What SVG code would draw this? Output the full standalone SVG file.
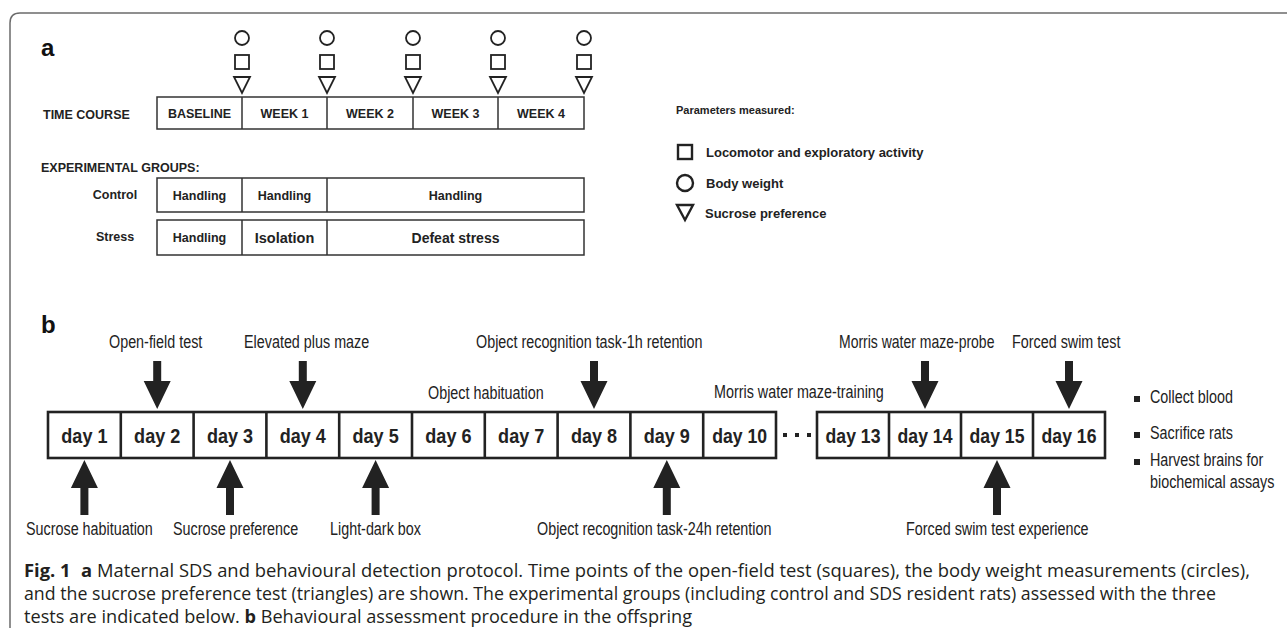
<svg xmlns="http://www.w3.org/2000/svg" width="1287" height="628" viewBox="0 0 1287 628">
<defs>
<style>
.frame{fill:none;stroke:#6b6b6b;stroke-width:1.5}
.box{fill:#fff;stroke:#333;stroke-width:1.5}
.sym{fill:none;stroke:#222;stroke-width:1.8}
.lsym{fill:none;stroke:#222;stroke-width:2.4}
.bA{font-family:"Liberation Sans",Arial,sans-serif;font-weight:bold;fill:#222}
.panel{font-family:"Liberation Sans",Arial,sans-serif;font-weight:bold;font-size:24px;fill:#111}
.hdr{font-size:12.5px}
.leg{font-size:13px}
.nar{font-family:"Liberation Sans",Arial,sans-serif;font-size:17.5px;fill:#222}
.day{font-family:"Liberation Sans",Arial,sans-serif;font-size:21px;font-weight:bold;fill:#222;text-anchor:middle}
.dbox{fill:#fff;stroke:#222;stroke-width:2.6}
.arr{fill:#222}
.cap{font-family:"Open Sans","Liberation Sans",Arial,sans-serif;font-size:17.5px;fill:#231f20}
.capb{font-weight:bold}
</style>
<path id="darrow" d="M -4 0 L 4 0 L 4 20 L 13.5 20 L 0 48 L -13.5 20 L -4 20 Z"/>
<path id="uarrow" d="M 0 0 L 13.5 28 L 4 28 L 4 55 L -4 55 L -4 28 L -13.5 28 Z"/>
<g id="trio">
<circle cx="0" cy="38" r="7" class="sym"/>
<rect x="-7" y="55" width="14" height="14" class="sym"/>
<path d="M -8 77 L 8 77 L 0 93 Z" class="sym"/>
</g>
</defs>

<path class="frame" d="M 10 628 L 10 23 Q 10 13 20 13 L 1287 13"/>

<!-- Panel a -->
<g id="panel-a">
<text class="panel" x="41" y="56">a</text>
<g id="timepoints">
<use href="#trio" x="242"/>
<use href="#trio" x="327"/>
<use href="#trio" x="413"/>
<use href="#trio" x="498"/>
<use href="#trio" x="584"/>
</g>
<g id="time-course">
<text class="bA hdr" x="43" y="119">TIME COURSE</text>
<rect class="box" x="157" y="97" width="427" height="32"/>
<path class="box" d="M242 97V129M327 97V129M413 97V129M498 97V129"/>
<g class="bA hdr" text-anchor="middle">
<text x="199.5" y="118">BASELINE</text>
<text x="284.5" y="118">WEEK 1</text>
<text x="370" y="118">WEEK 2</text>
<text x="455.5" y="118">WEEK 3</text>
<text x="541" y="118">WEEK 4</text>
</g>
</g>
<text class="bA hdr" x="41" y="172">EXPERIMENTAL GROUPS:</text>
<g id="control">
<text class="bA hdr" x="115" y="199" text-anchor="middle">Control</text>
<rect class="box" x="157" y="178" width="427" height="34"/>
<path class="box" d="M242 178V212M327 178V212"/>
<g class="bA hdr" text-anchor="middle">
<text x="199.5" y="200">Handling</text>
<text x="284.5" y="200">Handling</text>
<text x="455.5" y="200">Handling</text>
</g>
</g>
<g id="stress">
<text class="bA hdr" x="115" y="241" text-anchor="middle">Stress</text>
<rect class="box" x="157" y="220" width="427" height="35"/>
<path class="box" d="M242 220V255M327 220V255"/>
<text class="bA hdr" x="199.5" y="242" text-anchor="middle">Handling</text>
<text class="bA" font-size="14.5" x="284.5" y="243" text-anchor="middle">Isolation</text>
<text class="bA" font-size="14" x="455.5" y="243" text-anchor="middle">Defeat stress</text>
</g>
</g>

<!-- Legend -->
<g id="legend">
<text class="bA" font-size="11" x="676" y="114">Parameters measured:</text>
<rect class="lsym" x="678" y="145" width="14" height="14"/>
<text class="bA leg" x="706" y="157">Locomotor and exploratory activity</text>
<circle class="lsym" cx="685" cy="183" r="8"/>
<text class="bA leg" x="706" y="188">Body weight</text>
<path class="lsym" d="M677 205 L693 205 L685 220 Z"/>
<text class="bA leg" x="705" y="218">Sucrose preference</text>
</g>

<!-- Panel b -->
<text class="panel" x="41" y="333">b</text>
<g id="days">
<rect class="dbox" x="48" y="412" width="728" height="46"/>
<path class="dbox" d="M120.8 412V458M193.6 412V458M266.4 412V458M339.2 412V458M412 412V458M484.8 412V458M557.6 412V458M630.4 412V458M703.2 412V458"/>
<rect class="dbox" x="817" y="412" width="288" height="46"/>
<path class="dbox" d="M889 412V458M961 412V458M1033 412V458"/>
<g id="day-labels">
<text class="day" transform="translate(84.4 443) scale(0.86 1)">day 1</text>
<text class="day" transform="translate(157.2 443) scale(0.86 1)">day 2</text>
<text class="day" transform="translate(230 443) scale(0.86 1)">day 3</text>
<text class="day" transform="translate(302.8 443) scale(0.86 1)">day 4</text>
<text class="day" transform="translate(375.6 443) scale(0.86 1)">day 5</text>
<text class="day" transform="translate(448.4 443) scale(0.86 1)">day 6</text>
<text class="day" transform="translate(521.2 443) scale(0.86 1)">day 7</text>
<text class="day" transform="translate(594 443) scale(0.86 1)">day 8</text>
<text class="day" transform="translate(666.8 443) scale(0.86 1)">day 9</text>
<text class="day" transform="translate(739.6 443) scale(0.84 1)">day 10</text>
<text class="day" transform="translate(853 443) scale(0.84 1)">day 13</text>
<text class="day" transform="translate(925 443) scale(0.84 1)">day 14</text>
<text class="day" transform="translate(997 443) scale(0.84 1)">day 15</text>
<text class="day" transform="translate(1069 443) scale(0.84 1)">day 16</text>
</g>
<g class="arr">
<rect x="783" y="433" width="4" height="4"/>
<rect x="795" y="433" width="4" height="4"/>
<rect x="807" y="433" width="4" height="4"/>
</g>
</g>

<g id="connectors" class="arr">
<use href="#darrow" x="157.2" y="361"/>
<use href="#darrow" x="302.8" y="361"/>
<use href="#darrow" x="594" y="361"/>
<use href="#darrow" x="925" y="361"/>
<use href="#darrow" x="1069" y="361"/>
<use href="#uarrow" x="84.4" y="460"/>
<use href="#uarrow" x="230" y="460"/>
<use href="#uarrow" x="375.6" y="460"/>
<use href="#uarrow" x="666.8" y="460"/>
<use href="#uarrow" x="997" y="460"/>
</g>

<g id="labels-top" class="nar">
<text transform="translate(109 348) scale(0.82 1)">Open-field test</text>
<text transform="translate(244 348) scale(0.82 1)">Elevated plus maze</text>
<text transform="translate(476 348) scale(0.82 1)">Object recognition task-1h retention</text>
<text transform="translate(839 348) scale(0.8 1)">Morris water maze-probe</text>
<text transform="translate(1012 348) scale(0.82 1)">Forced swim test</text>
<text transform="translate(428 399) scale(0.82 1)">Object habituation</text>
<text transform="translate(714 398) scale(0.82 1)">Morris water maze-training</text>
</g>

<g id="labels-bottom" class="nar">
<text transform="translate(26 535) scale(0.82 1)">Sucrose habituation</text>
<text transform="translate(173 535) scale(0.82 1)">Sucrose preference</text>
<text transform="translate(330 535) scale(0.82 1)">Light-dark box</text>
<text transform="translate(537 535) scale(0.82 1)">Object recognition task-24h retention</text>
<text transform="translate(906 535) scale(0.82 1)">Forced swim test experience</text>
</g>

<g id="endpoints">
<g class="arr">
<rect x="1134" y="396" width="6" height="6"/>
<rect x="1134" y="432" width="6" height="6"/>
<rect x="1134" y="459" width="6" height="6"/>
</g>
<g class="nar">
<text transform="translate(1150 403) scale(0.82 1)">Collect blood</text>
<text transform="translate(1150 439) scale(0.82 1)">Sacrifice rats</text>
<text transform="translate(1150 466) scale(0.82 1)">Harvest brains for</text>
<text transform="translate(1150 488) scale(0.82 1)">biochemical assays</text>
</g>
</g>

<g id="caption" class="cap">
<text x="24" y="577" textLength="1226" lengthAdjust="spacingAndGlyphs"><tspan class="capb">Fig. 1</tspan><tspan class="capb" dx="10">a</tspan> Maternal SDS and behavioural detection protocol. Time points of the open-field test (squares), the body weight measurements (circles),</text>
<text x="24" y="600" textLength="1192" lengthAdjust="spacingAndGlyphs">and the sucrose preference test (triangles) are shown. The experimental groups (including control and SDS resident rats) assessed with the three</text>
<text x="24" y="623" textLength="668" lengthAdjust="spacingAndGlyphs">tests are indicated below. <tspan class="capb">b</tspan> Behavioural assessment procedure in the offspring</text>
</g>
</svg>
